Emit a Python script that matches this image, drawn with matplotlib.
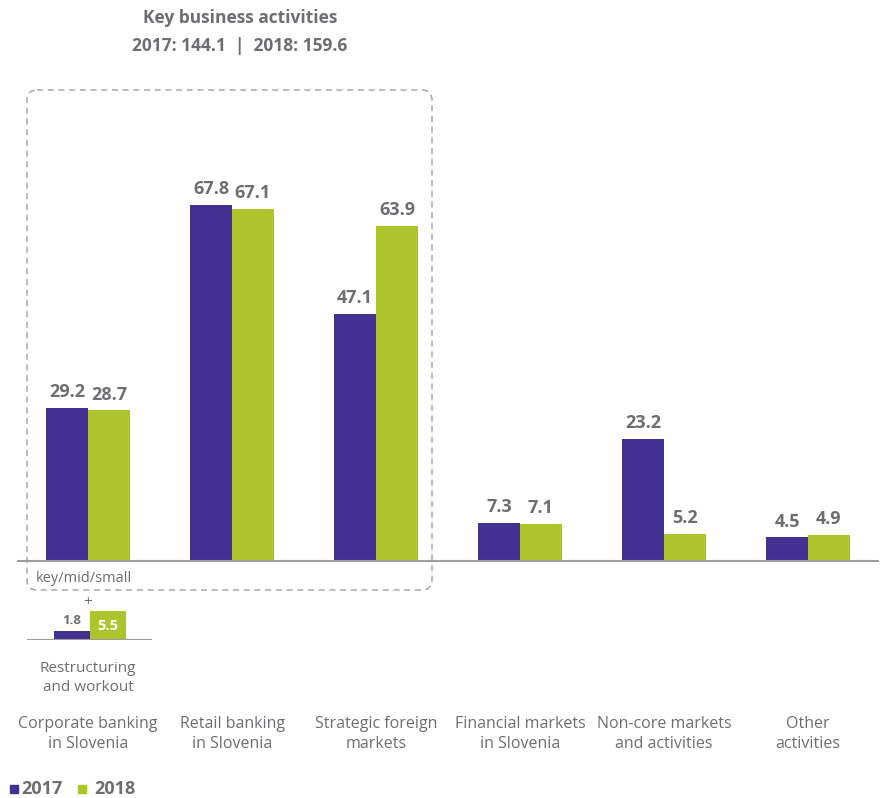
import numpy as np
import matplotlib.pyplot as plt
from matplotlib.patches import FancyBboxPatch

plt.rcParams['font.family'] = ['Open Sans', 'DejaVu Sans']

# segment results, 2017 vs 2018
segments = ['Corporate banking\nin Slovenia', 'Retail banking\nin Slovenia',
            'Strategic foreign\nmarkets', 'Financial markets\nin Slovenia',
            'Non-core markets\nand activities', 'Other\nactivities']
vals_2017 = [29.2, 67.8, 47.1, 7.3, 23.2, 4.5]
vals_2018 = [28.7, 67.1, 63.9, 7.1, 5.2, 4.9]

# restructuring and workout (part of corporate banking)
restr_2017 = 1.8
restr_2018 = 5.5

years = ['2017', '2018']
purple = '#433192'
green = '#adc42c'
grey_txt = '#6d6e71'
grey_line = '#9d9d9d'

W, H = 882, 798
fig = plt.figure(figsize=(W / 100, H / 100), dpi=100)

# helper: axes rectangle given in pixels from top-left
def px_axes(x0, y_top, w, h, **kw):
    return fig.add_axes([x0 / W, (H - y_top - h) / H, w / W, h / H], **kw)

# overlay in pixel coordinates for annotations
ov = px_axes(0, 0, W, H, zorder=0)
ov.set_xlim(0, W)
ov.set_ylim(H, 0)
ov.axis('off')

# main bar chart
px_per_unit = 5.25
ax = px_axes(18, 61, 860, 500, zorder=2)
ax.patch.set_alpha(0)
x = np.arange(len(segments))
bw = 0.29
ax.bar(x - bw / 2, vals_2017, bw, color=purple)
ax.bar(x + bw / 2, vals_2018, bw, color=green)
ax.set_xlim(-70 / 144, 790 / 144)
ax.set_ylim(0, 500 / px_per_unit)
for s in ax.spines.values():
    s.set_visible(False)
ax.axhline(0, color=grey_line, lw=1.5, clip_on=False)
ax.set_xticks([])
ax.set_yticks([])
for xi, a, b in zip(x, vals_2017, vals_2018):
    ax.text(xi - bw / 2, a + 1.3, f'{a:.1f}', ha='center', va='bottom',
            fontsize=13, fontweight='bold', color=grey_txt)
    ax.text(xi + bw / 2, b + 1.3, f'{b:.1f}', ha='center', va='bottom',
            fontsize=13, fontweight='bold', color=grey_txt)

# restructuring mini chart
ax2 = px_axes(27, 600, 125, 40, zorder=2)
ax2.patch.set_alpha(0)
rb = 36 / 144
ax2.bar([-rb / 2], [restr_2017], rb, color=purple)
ax2.bar([rb / 2], [restr_2018], rb, color=green)
ax2.set_xlim(-63 / 144, 62 / 144)
ax2.set_ylim(0, 40 / px_per_unit)
ax2.axis('off')
ax2.axhline(0, color=grey_line, lw=1.5)
ax2.text(-rb / 2, restr_2017 + 0.6, f'{restr_2017:.1f}', ha='center', va='bottom',
         fontsize=9.5, fontweight='bold', color=grey_txt)
ax2.text(rb / 2, restr_2018 / 2, f'{restr_2018:.1f}', ha='center', va='center',
         fontsize=10.5, fontweight='bold', color='white')

# dashed box around key business activities
box = FancyBboxPatch((27, 90), 405, 500, boxstyle='round,pad=0,rounding_size=10',
                     fill=False, ec='#a7a8aa', lw=1.1, ls=(0, (4, 3)))
ov.add_patch(box)

ov.text(240, 18, 'Key business activities', ha='center', va='center',
        fontsize=12.5, fontweight='bold', color=grey_txt)
ov.text(240, 46, '2017: 144.1  |  2018: 159.6', ha='center', va='center',
        fontsize=12.5, fontweight='bold', color=grey_txt)

ov.text(36, 578, 'key/mid/small', ha='left', va='center', fontsize=10.5, color=grey_txt)
ov.text(88, 603, '+', ha='center', va='center', fontsize=11, color=grey_txt)
ov.text(88, 678, 'Restructuring\nand workout', ha='center', va='center',
        fontsize=11, color=grey_txt, linespacing=1.4)

for i, lab in enumerate(segments):
    ov.text(88 + 144 * i, 734, lab, ha='center', va='center',
            fontsize=11.5, color=grey_txt, linespacing=1.25)

# legend
ov.add_patch(plt.Rectangle((10, 785), 8, 8, color=purple))
ov.text(21, 789, years[0], ha='left', va='center', fontsize=13,
        fontweight='bold', color=grey_txt)
ov.add_patch(plt.Rectangle((78, 785), 8, 8, color=green))
ov.text(94, 789, years[1], ha='left', va='center', fontsize=13,
        fontweight='bold', color=grey_txt)

fig.savefig('out.png', dpi=100)
